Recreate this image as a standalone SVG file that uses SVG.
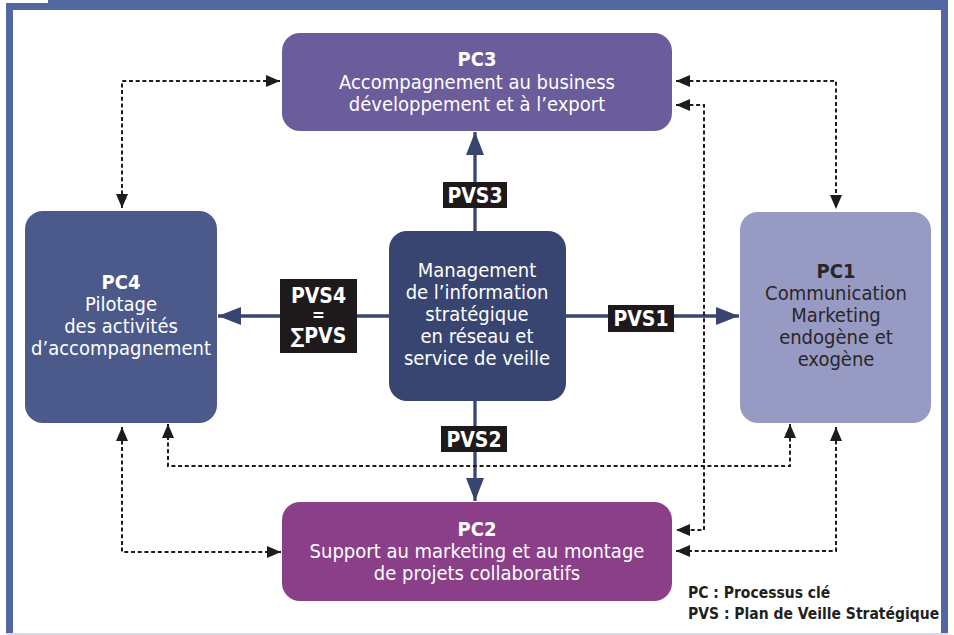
<svg xmlns="http://www.w3.org/2000/svg" width="954" height="635" viewBox="0 0 954 635">
<defs>
<marker id="da" markerUnits="userSpaceOnUse" markerWidth="16" markerHeight="14" viewBox="0 0 16 14" refX="15" refY="7" orient="auto-start-reverse"><path d="M1,1 L15,7 L1,13 Z" fill="#1f1b1c"/></marker>
<marker id="sa" markerUnits="userSpaceOnUse" markerWidth="24" markerHeight="20" viewBox="0 0 24 20" refX="23" refY="10" orient="auto"><path d="M0,1 L23,10 L0,19 Z" fill="#384571"/></marker>
</defs>
<style>
text{font-family:"DejaVu Sans Condensed","DejaVu Sans","Liberation Sans",sans-serif;text-anchor:middle;font-size:20px;fill:#ffffff}
.t{font-weight:bold}
.dk{fill:#2a2628}
.lbl{font-weight:bold;font-size:21px;fill:#ffffff}
.eq{font-size:17px}
.dot{fill:none;stroke:#1f1b1c;stroke-width:2;stroke-dasharray:4 2.7}
.sol{fill:none;stroke:#384571;stroke-width:3.3}
.leg{font-weight:bold;font-size:15.5px;fill:#231f20;text-anchor:start}
</style>
<rect x="0" y="0" width="954" height="635" fill="#5367a1"/>
<rect x="0" y="0" width="48" height="3" fill="#ffffff"/>
<rect x="0" y="0" width="6" height="635" fill="#ffffff"/>
<rect x="13" y="10" width="928" height="623" fill="#ffffff"/>
<rect x="948" y="0" width="6" height="635" fill="#ffffff"/>
<rect x="6" y="633" width="942" height="2" fill="#dcd9ec"/>

<g id="connectors">
<path class="sol" d="M475,231 V132" marker-end="url(#sa)"/>
<path class="sol" d="M389,316 H218" marker-end="url(#sa)"/>
<path class="sol" d="M566,316 H739" marker-end="url(#sa)"/>
<path class="sol" d="M475,401 V501" marker-end="url(#sa)"/>
<path class="dot" d="M122,208 V81 H280" marker-start="url(#da)" marker-end="url(#da)"/>
<path class="dot" d="M676,81 H836 V209" marker-start="url(#da)" marker-end="url(#da)"/>
<path class="dot" d="M676,105 H704 V530 H676" marker-start="url(#da)" marker-end="url(#da)"/>
<path class="dot" d="M836,427 V551 H676" marker-start="url(#da)" marker-end="url(#da)"/>
<path class="dot" d="M790,424 V466 H168 V424" marker-start="url(#da)" marker-end="url(#da)"/>
<path class="dot" d="M122,427 V552 H281" marker-start="url(#da)" marker-end="url(#da)"/>
<g id="pvs3"><rect x="443" y="182" width="64" height="26" fill="#1e1a1b"/><text class="lbl" x="475" y="203">PVS3</text></g>
<g id="pvs4"><rect x="280" y="279" width="77" height="74" fill="#1e1a1b"/><text class="lbl" x="318.5" y="303">PVS4<tspan class="eq" x="318.5" dy="18">=</tspan><tspan x="318.5" dy="22">∑PVS</tspan></text></g>
<g id="pvs1"><rect x="608" y="305" width="66" height="27" fill="#1e1a1b"/><text class="lbl" x="641" y="326">PVS1</text></g>
<g id="pvs2"><rect x="441" y="426" width="66" height="26" fill="#1e1a1b"/><text class="lbl" x="474" y="447">PVS2</text></g>
</g>

<g id="pc3"><rect x="282" y="33" width="390" height="98" rx="18" fill="#6b5c9b"/>
<text class="t" x="477" y="66">PC3</text><text x="477" y="89">Accompagnement au business</text><text x="477" y="111">développement et à l’export</text></g>

<g id="pc4"><rect x="25" y="211" width="192" height="212" rx="18" fill="#4b5a8a"/>
<text class="t" x="121" y="289">PC4</text><text x="121" y="311">Pilotage</text><text x="121" y="333">des activités</text><text x="121" y="355">d’accompagnement</text></g>

<g id="center"><rect x="389" y="231" width="177" height="170" rx="18" fill="#384571"/>
<text x="477" y="277">Management</text><text x="477" y="299">de l’information</text><text x="477" y="321">stratégique</text><text x="477" y="343">en réseau et</text><text x="477" y="365">service de veille</text></g>

<g id="pc1"><rect x="740" y="212" width="191" height="211" rx="18" fill="#979ac3"/>
<text class="t dk" x="836" y="278">PC1</text><text class="dk" x="836" y="300">Communication</text><text class="dk" x="836" y="322">Marketing</text><text class="dk" x="836" y="344">endogène et</text><text class="dk" x="836" y="366">exogène</text></g>

<g id="pc2"><rect x="282" y="502" width="390" height="99" rx="18" fill="#8b3f88"/>
<text class="t" x="477" y="536">PC2</text><text x="477" y="558">Support au marketing et au montage</text><text x="477" y="580">de projets collaboratifs</text></g>

<g id="legend"><text class="leg" x="688" y="598">PC : Processus clé</text><text class="leg" x="688" y="619">PVS : Plan de Veille Stratégique</text></g>
</svg>
